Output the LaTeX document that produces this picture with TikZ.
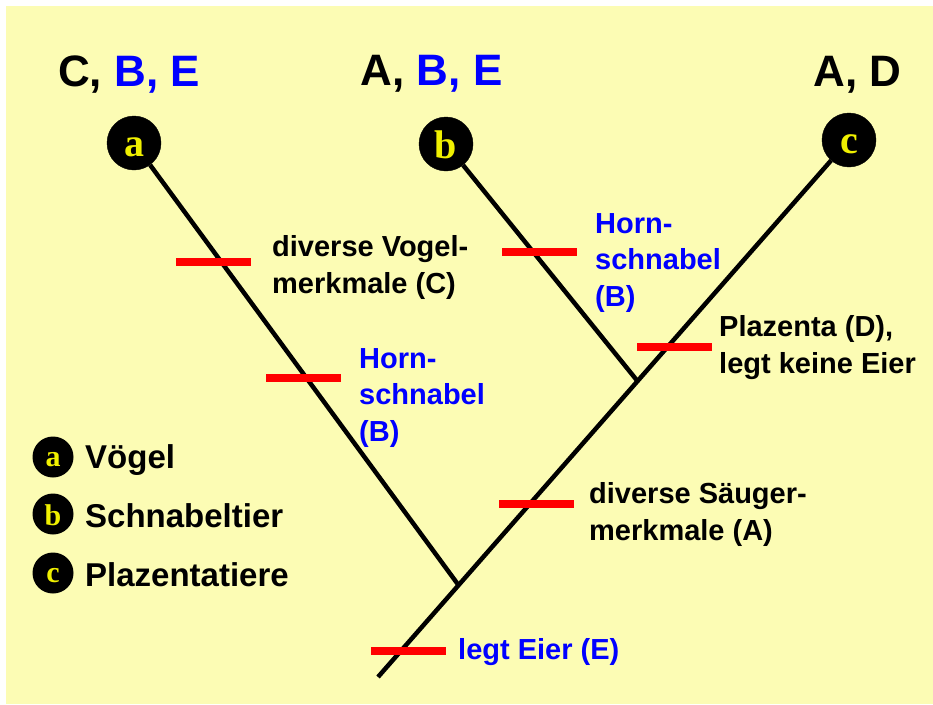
\documentclass[tikz,border=0pt]{standalone}
\usepackage{fontspec}
\setmainfont{Liberation Sans}
\newfontfamily\letterfont{Liberation Serif}
\usetikzlibrary{calc}
\definecolor{bgyellow}{RGB}{252,252,180}
\definecolor{lettery}{RGB}{240,240,0}
\definecolor{barred}{RGB}{255,0,0}
\definecolor{txtblue}{RGB}{0,0,255}
\tikzset{
  taxon/.style={circle, fill=black, draw=black, minimum size=54pt, inner sep=0pt,
    text=lettery, font=\letterfont\bfseries\fontsize{40}{40}\selectfont,
    text height=26pt, text depth=0pt},
  legtaxon/.style={circle, fill=black, minimum size=41pt, inner sep=0pt,
    text=lettery, font=\letterfont\bfseries\fontsize{30}{30}\selectfont,
    text height=19pt, text depth=0pt},
  tall/.style={text height=29pt},
  legtall/.style={text height=22pt},
  branch/.style={line width=4.5pt, black},
  bar/.style={rectangle, fill=barred, minimum width=75pt, minimum height=8pt, inner sep=0pt},
  toplbl/.style={anchor=base, inner sep=0pt, font=\bfseries\fontsize{44}{44}\selectfont},
  lbl/.style={anchor=base west, inner sep=0pt, align=left, font=\bfseries\fontsize{29}{36.5}\selectfont},
  leglbl/.style={anchor=base west, inner sep=0pt, font=\bfseries\fontsize{33}{33}\selectfont},
}
\begin{document}
\begin{tikzpicture}[x=1pt,y=-1pt]
\useasboundingbox (0,0) rectangle (933,704);
\fill[bgyellow] (6,6) rectangle (933,704);

% taxa
\node[taxon] (a) at (134,143) {a};
\node[taxon, tall] (b) at (446,144) {b};
\node[taxon] (c) at (849,140) {c};

\coordinate (root) at (378,677);
\coordinate (ja) at ($(root)!0.171!(c.center)$);
\coordinate (jb) at ($(root)!0.551!(c.center)$);

% branches
\draw[branch] (root) -- (ja) -- (jb) -- (c);
\draw[branch] (a) -- (ja);
\draw[branch] (b) -- (jb);

% red bars
\node[bar] (bar1) at (213,262) {};
\node[bar] (bar2) at (303,378) {};
\node[bar] (bar3) at (539.5,252) {};
\node[bar] (bar4) at (674,347) {};
\node[bar] (bar5) at (536.5,504) {};
\node[bar] (bar6) at (408,651) {};

% top labels
\node[toplbl] (la) at (129,86) {C, \textcolor{txtblue}{B, E}};
\node[toplbl] (lb) at (431.5,85) {A, \textcolor{txtblue}{B, E}};
\node[toplbl] (lc) at (857.5,86) {A, D};

% character labels (anchor = baseline of last line)
\node[lbl] (t1) at (272,293) {diverse Vogel-\\merkmale (C)};
\node[lbl, text=txtblue] (t2) at (359,441) {Horn-\\schnabel\\(B)};
\node[lbl, text=txtblue] (t3) at (595,306) {Horn-\\schnabel\\(B)};
\node[lbl] (t4) at (719,373) {Plazenta (D),\\legt keine Eier};
\node[lbl] (t5) at (589,540) {diverse Säuger-\\merkmale (A)};
\node[lbl, text=txtblue] (t6) at (458,659) {legt Eier (E)};

% legend
\node[legtaxon] (ka) at (53,457) {a};
\node[legtaxon, legtall] (kb) at (53,514) {b};
\node[legtaxon] (kc) at (53,573) {c};
\node[leglbl] (ta) at (85,468) {Vögel};
\node[leglbl] (tb) at (85,527) {Schnabeltier};
\node[leglbl] (tc) at (85,586) {Plazentatiere};
\end{tikzpicture}
\end{document}
